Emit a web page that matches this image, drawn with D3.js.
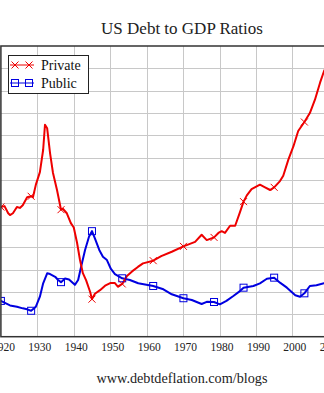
<!DOCTYPE html>
<html>
<head>
<meta charset="utf-8">
<script src="https://cdn.jsdelivr.net/npm/d3@7"></script>
<style>
  html, body { margin: 0; padding: 0; background: #fff; overflow: hidden; }
  svg { display: block; font-family: "Liberation Serif", "Times New Roman", serif; }
</style>
</head>
<body>
<svg id="chart" width="324" height="393"></svg>
<script>
// values (percent of GDP)
const privateYears = [1920, 1921, 1922, 1922.5, 1923.3, 1924.4, 1925.2, 1926, 1927.2, 1928.3, 1928.8, 1929.6,
  1930.7, 1931.6, 1932.1, 1932.7, 1933.5, 1934.3, 1935.4, 1936.5, 1937, 1938.1, 1939.2, 1940, 1940.9,
  1941.7, 1942.5, 1943.4, 1944.5, 1945, 1945.8, 1947.2, 1948.6, 1950, 1951.3, 1952.1, 1953.3, 1954.6,
  1956, 1957.6, 1959, 1961.8, 1964, 1966.9, 1970.1, 1973.3, 1975.1, 1976.5, 1978.5, 1979.7, 1980.6,
  1981.5, 1982.9, 1984.3, 1985.6, 1986.6, 1987.5, 1988.8, 1991.1, 1992.5, 1993.9, 1995, 1996.6,
  1997.5, 1998.9, 2000.3, 2001.6, 2003.3, 2004.8, 2006.2, 2007.6, 2008.7, 2009.5];
const privateValues = [145, 146, 138, 136, 138, 145, 144, 147, 156, 157, 156, 170,
  184, 209, 237, 233, 205, 183, 164, 142, 143, 138, 127, 122, 105,
  86, 71, 63, 50, 42, 48, 52, 57, 60, 60, 56, 59, 68,
  73, 78, 82, 85, 90, 95, 101, 106, 114, 108, 111, 116, 118,
  116, 124, 124, 139, 151, 158, 165, 170, 167, 164, 167, 174,
  180, 198, 213, 230, 240, 250, 265, 284, 297, 303];

const publicYears = [1920, 1922.5, 1924.4, 1926, 1927.2, 1928.3, 1929.6, 1930.7, 1931.6, 1932.7, 1933.5,
  1934.9, 1935.7, 1936.5, 1937.6, 1938.7, 1940.3, 1941.2, 1942, 1943.1, 1944.2, 1945, 1945.8, 1947,
  1948, 1949.1, 1950.2, 1951.3, 1953.3, 1955.4, 1957.7, 1961.8, 1964.6, 1966.9, 1970.1, 1972.4,
  1975.1, 1976.5, 1978.5, 1980.1, 1981.9, 1983.8, 1985.6, 1986.6, 1989.3, 1991.1, 1993, 1995,
  1996.6, 1998.5, 2000.8, 2002.1, 2003.3, 2004.8, 2006.6, 2008.7, 2009.5];
const publicValues = [40, 35, 33.5, 31.7, 30.6, 29, 33.5, 44.7, 59.7, 70.9, 70,
  67, 63.4, 61, 65, 64, 58, 63.4, 78, 97, 112, 118, 110, 97,
  89.4, 85.7, 75.7, 70, 65.3, 63.4, 59.7, 56.7, 53, 47.4, 43, 41,
  36.6, 39, 38.8, 36.2, 40, 45.5, 51, 54.8, 56.7, 59.7, 64.8, 66,
  60.4, 54.8, 46.3, 44.7, 48.5, 56.7, 57.5, 59.7, 60];

const markerYears = [1920, 1928.3, 1936.5, 1945, 1953.3, 1961.8, 1970.1, 1978.5, 1986.6, 1995, 2003.3];
const decadeTicks = [1920, 1930, 1940, 1950, 1960, 1970, 1980, 1990, 2000, 2010];
const yTicks = d3.range(0, 326, 25);

const svg = d3.select('#chart');

const x = d3.scaleLinear().domain([1920, 2010]).range([0.9, 328.8]);
const y = d3.scaleLinear().domain([0, 325]).range([336.7, 46]);

const plotLeft = x(1920), plotRight = 340, plotTop = y(325), plotBottom = y(0);

svg.append('defs').append('clipPath').attr('id', 'plotClip')
  .append('rect')
  .attr('x', plotLeft).attr('y', plotTop)
  .attr('width', plotRight - plotLeft).attr('height', plotBottom - plotTop);

// grid
const grid = svg.append('g').attr('stroke', '#c8c8c8').attr('stroke-width', 1);
grid.selectAll('line.v')
  .data(decadeTicks.slice(1))
  .join('line')
  .attr('x1', d => Math.round(x(d)) + 0.5).attr('x2', d => Math.round(x(d)) + 0.5)
  .attr('y1', plotTop).attr('y2', plotBottom);
grid.selectAll('line.h')
  .data(yTicks.slice(1, -1))
  .join('line')
  .attr('x1', plotLeft).attr('x2', plotRight)
  .attr('y1', d => Math.round(y(d)) + 0.5).attr('y2', d => Math.round(y(d)) + 0.5);

// lines
const line = d3.line().x(d => x(d[0])).y(d => y(d[1]));
const privateData = privateYears.map((yr, i) => [yr, privateValues[i]]);
const publicData = publicYears.map((yr, i) => [yr, publicValues[i]]);

const plot = svg.append('g').attr('clip-path', 'url(#plotClip)');

plot.append('path')
  .datum(publicData)
  .attr('d', line)
  .attr('fill', 'none')
  .attr('stroke', '#0000e0')
  .attr('stroke-width', 2)
  .attr('stroke-linejoin', 'round');

plot.append('path')
  .datum(privateData)
  .attr('d', line)
  .attr('fill', 'none')
  .attr('stroke', '#ee0000')
  .attr('stroke-width', 2)
  .attr('stroke-linejoin', 'round');

const crossPath = (cx, cy, r) => `M${cx - r},${cy - r}L${cx + r},${cy + r}M${cx - r},${cy + r}L${cx + r},${cy - r}`;

plot.selectAll('rect.mk')
  .data(publicData.filter(d => markerYears.includes(d[0])))
  .join('rect')
  .attr('x', d => x(d[0]) - 3.5).attr('y', d => y(d[1]) - 3.5)
  .attr('width', 7).attr('height', 7)
  .attr('fill', 'none').attr('stroke', '#0000e0').attr('stroke-width', 1);

plot.selectAll('path.mk')
  .data(privateData.filter(d => markerYears.includes(d[0])))
  .join('path')
  .attr('class', 'mk')
  .attr('d', d => crossPath(x(d[0]), y(d[1]), 3.5))
  .attr('stroke', '#ee0000').attr('stroke-width', 1);

// frame
svg.append('rect')
  .attr('x', plotLeft).attr('y', plotTop)
  .attr('width', plotRight - plotLeft).attr('height', plotBottom - plotTop)
  .attr('fill', 'none').attr('stroke', '#333').attr('stroke-width', 1.5);

// x axis labels
svg.append('g')
  .selectAll('text')
  .data(decadeTicks)
  .join('text')
  .attr('x', d => x(d) + 2.5)
  .attr('y', 351)
  .attr('text-anchor', 'middle')
  .attr('font-size', '11.5px')
  .attr('fill', '#222')
  .text(d => d);

// title and source
svg.append('text')
  .attr('x', 182).attr('y', 33.5)
  .attr('text-anchor', 'middle')
  .attr('font-size', '17px')
  .attr('fill', '#222')
  .text('US Debt to GDP Ratios');

svg.append('text')
  .attr('x', 182).attr('y', 383)
  .attr('text-anchor', 'middle')
  .attr('font-size', '14.2px')
  .attr('fill', '#222')
  .text('www.debtdeflation.com/blogs');

// legend
const legend = svg.append('g');
legend.append('rect')
  .attr('x', 8.5).attr('y', 55.5).attr('width', 80).attr('height', 38)
  .attr('fill', '#fff').attr('stroke', '#222').attr('stroke-width', 1);

const legendItems = [
  { name: 'Private', color: '#ee0000', y: 65, marker: 'cross' },
  { name: 'Public', color: '#0000e0', y: 83, marker: 'square' }
];
legendItems.forEach(item => {
  legend.append('line')
    .attr('x1', 10).attr('x2', 34).attr('y1', item.y).attr('y2', item.y)
    .attr('stroke', item.color).attr('stroke-width', 1);
  [15, 29].forEach(mx => {
    if (item.marker === 'cross') {
      legend.append('path').attr('d', crossPath(mx, item.y, 3.5))
        .attr('stroke', item.color).attr('stroke-width', 1);
    } else {
      legend.append('rect').attr('x', mx - 3.5).attr('y', item.y - 3.5)
        .attr('width', 7).attr('height', 7)
        .attr('fill', 'none').attr('stroke', item.color).attr('stroke-width', 1);
    }
  });
  legend.append('text')
    .attr('x', 41).attr('y', item.y + 4.5)
    .attr('font-size', '14px')
    .attr('fill', '#111')
    .text(item.name);
});
</script>
</body>
</html>
